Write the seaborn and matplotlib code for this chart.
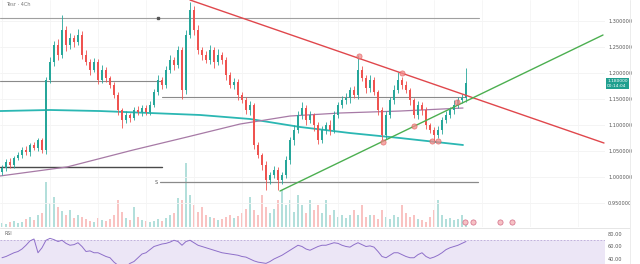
import matplotlib
matplotlib.use("Agg")
import matplotlib.pyplot as plt
from matplotlib.lines import Line2D
from matplotlib.patches import Rectangle
import seaborn as sns
import pandas as pd

sns.set_theme(style="white")
plt.rcParams['font.family'] = ['DejaVu Sans']

# ---------------- data ----------------
first_open = 1.010
closes = [1.017, 1.029, 1.023, 1.037, 1.042, 1.052, 1.048, 1.062, 1.056, 1.071,
          1.052, 1.187, 1.221, 1.254, 1.235, 1.283, 1.254, 1.267, 1.260, 1.273,
          1.235, 1.221, 1.206, 1.221, 1.187, 1.206, 1.190, 1.177, 1.158, 1.129,
          1.110, 1.119, 1.114, 1.129, 1.125, 1.133, 1.125, 1.139, 1.164, 1.187,
          1.177, 1.206, 1.225, 1.215, 1.244, 1.167, 1.273, 1.321, 1.283, 1.244,
          1.235, 1.225, 1.244, 1.221, 1.235, 1.225, 1.196, 1.177, 1.183, 1.158,
          1.148, 1.129, 1.139, 1.062, 1.042, 1.023, 0.994, 1.004, 1.014, 0.994,
          1.004, 1.033, 1.071, 1.090, 1.119, 1.133, 1.110, 1.119, 1.100, 1.071,
          1.090, 1.100, 1.090, 1.119, 1.139, 1.148, 1.152, 1.167, 1.158, 1.206,
          1.190, 1.171, 1.187, 1.164, 1.129, 1.081, 1.119, 1.148, 1.167, 1.187,
          1.177, 1.167, 1.148, 1.119, 1.139, 1.129, 1.100, 1.090, 1.081, 1.090,
          1.110, 1.119, 1.129, 1.139, 1.148, 1.152, 1.180]
upper_wick = [6, 5, 8, 4, 6, 5, 7, 4, 6, 5,
              4, 6, 10, 8, 12, 29, 8, 10, 6, 12,
              8, 10, 6, 8, 5, 10, 6, 4, 5, 6,
              4, 7, 5, 6, 8, 5, 6, 8, 6, 10,
              6, 8, 10, 6, 8, 6, 10, 16, 8, 10,
              6, 8, 10, 6, 12, 5, 6, 5, 8, 6,
              5, 6, 8, 4, 6, 5, 8, 6, 8, 5,
              6, 8, 6, 10, 8, 12, 6, 8, 5, 6,
              8, 6, 10, 8, 6, 8, 10, 6, 8, 29,
              8, 6, 10, 5, 4, 6, 8, 6, 10, 15,
              6, 8, 5, 4, 8, 6, 5, 4, 6, 8,
              6, 8, 5, 10, 6, 8, 30]
lower_wick = [6, 5, 6, 5, 4, 6, 5, 7, 4, 6,
              5, 7, 6, 8, 10, 6, 12, 8, 10, 6,
              8, 6, 10, 5, 8, 6, 8, 5, 6, 10,
              16, 6, 8, 5, 6, 8, 5, 6, 5, 6,
              8, 5, 6, 10, 6, 17, 8, 6, 10, 8,
              10, 6, 8, 12, 6, 8, 10, 6, 8, 10,
              6, 8, 10, 8, 6, 10, 19, 8, 6, 19,
              8, 6, 8, 10, 6, 8, 10, 6, 12, 8,
              6, 8, 10, 5, 6, 6, 8, 10, 6, 8,
              6, 10, 8, 6, 10, 10, 8, 6, 8, 6,
              8, 6, 10, 6, 8, 10, 8, 6, 12, 6,
              8, 6, 5, 8, 6, 5, 8]
volumes = [4, 3, 5, 6, 4, 5, 8, 10, 7, 12,
           14, 45, 24, 30, 20, 16, 12, 17, 9, 12,
           10, 8, 6, 5, 9, 7, 6, 8, 12, 27,
           15, 9, 7, 20, 10, 7, 6, 5, 6, 8,
           6, 9, 12, 14, 29, 27, 64, 32, 22, 15,
           20, 12, 10, 9, 7, 8, 10, 12, 9, 11,
           14, 18, 30, 17, 12, 32, 20, 14, 18, 27,
           37, 22, 27, 15, 32, 22, 14, 27, 17, 22,
           14, 27, 12, 17, 10, 12, 9, 12, 17, 12,
           22, 10, 12, 12, 8, 17, 10, 8, 12, 10,
           22, 14, 10, 12, 8, 7, 5, 10, 17, 27,
           12, 8, 9, 7, 8, 12, 6]
rsi = [42, 44, 47, 50, 52, 56, 62, 69, 72, 50,
       58, 70, 73, 71, 68, 70, 65, 62, 63, 66,
       60, 52, 53, 50, 50, 47, 44, 42, 35, 30,
       26, 28, 33, 36, 42, 48, 50, 55, 60, 62,
       64, 65, 67, 70, 68, 62, 68, 70, 66, 62,
       60, 58, 56, 54, 52, 50, 49, 48, 47, 46,
       44, 43, 40, 37, 35, 34, 33, 36, 40, 43,
       46, 50, 54, 58, 62, 60, 56, 54, 57, 60,
       62, 62, 64, 66, 65, 62, 60, 59, 63, 66,
       63, 60, 61, 59, 52, 44, 42, 46, 50, 50,
       47, 44, 42, 42, 47, 50, 44, 41, 43, 46,
       50, 55, 58, 60, 62, 65, 68]

# moving averages (bar index, price)
ma_fast_idx = [-0.5, 16.25, 32.75, 46.25, 59.5, 72.0, 84.5, 99.5, 115.25]
ma_fast_val = [1.0020, 1.0193, 1.0519, 1.0769, 1.1019, 1.1173, 1.1231, 1.1269, 1.1327]
ma_slow_idx = [-0.5, 12.0, 24.5, 37.0, 49.5, 62.0, 74.5, 87.0, 99.5, 115.25]
ma_slow_val = [1.1269, 1.1289, 1.1269, 1.1231, 1.1193, 1.1116, 1.0962, 1.0846, 1.0750, 1.0616]

# horizontal levels: (price, start index, end index, colour, width)
levels = [(1.3058, -0.5, 119.2, '#a0a0a0', 0.8),
          (1.1846, -0.5, 40.0, '#8a8a8a', 0.8),
          (1.1539, 40.0, 116.0, '#8a8a8a', 0.8),
          (1.0193, -0.5, 40.0, '#4a4a4a', 1.0),
          (0.9904, 39.5, 119.0, '#8a8a8a', 0.9)]

# trend lines (index, price) pairs
resist_line = ([47.0, 150.5], [1.3404, 1.0654])
support_line = ([69.5, 150.25], [0.9731, 1.2731])

# pivot markers
pivot_idx = [89.25, 100.0, 95.25, 103.0, 107.5, 109.0, 113.75]
pivot_val = [1.2327, 1.2000, 1.0673, 1.0981, 1.0692, 1.0692, 1.1442]

event_idx = [115.75, 117.75, 124.5, 127.5]

price_ticks = [1.30, 1.25, 1.20, 1.15, 1.10, 1.05, 1.00, 0.95]
rsi_ticks = [80, 60, 40]
last_price_text = "1.180000"
countdown_text = "00:14:04"
title_text = "Tesr · 4Ch"

UP = '#26a69a'
DOWN = '#ef5350'

# ---------------- figure ----------------
W, H = 640, 264
fig = plt.figure(figsize=(W / 100, H / 100), dpi=100)
fig.patch.set_facecolor('white')
ax = fig.add_axes([0, 1 - 227 / H, 605 / W, 227 / H])
vax = ax.twinx()
rax = fig.add_axes([0, 0, 605 / W, 35 / H])

n = len(closes)
idx = list(range(n))
opens = [first_open] + closes[:-1]
highs = [max(o, c) + u / 1000 for o, c, u in zip(opens, closes, upper_wick)]
lows = [min(o, c) - l / 1000 for o, c, l in zip(opens, closes, lower_wick)]
colors = [UP if c >= o else DOWN for o, c in zip(opens, closes)]

ax.set_xlim(-0.5, 150.75)
ax.set_ylim(0.9039, 1.3404)
vax.set_ylim(0, 227)
vax.set_zorder(0)
ax.set_zorder(1)
ax.patch.set_alpha(0)

# grid
for yv in price_ticks:
    ax.axhline(yv, color='#f3f3f3', lw=0.6, zorder=0)
for xv in range(0, 151, 12):
    ax.axvline(xv, color='#f5f5f5', lw=0.6, zorder=0)

# volume
vax.bar(idx, volumes, width=0.7, color=colors, alpha=0.35, linewidth=0)
vax.set_yticks([])
for s in vax.spines.values():
    s.set_visible(False)

# levels
for p, x0, x1, col, lw in levels:
    ax.plot([x0, x1], [p, p], color=col, lw=lw, zorder=2)
ax.text(39.0, 0.9904, 'S', fontsize=3.5, color='#555', va='center', ha='right')
ax.plot([39.0], [1.3058], marker='s', ms=1.8, color='#555', zorder=3)

# moving averages
sns.lineplot(x=ma_slow_idx, y=ma_slow_val, ax=ax, color='#2bb7b3', lw=1.3, zorder=3)
sns.lineplot(x=ma_fast_idx, y=ma_fast_val, ax=ax, color='#a77aa6', lw=0.9, zorder=3)

# candles
ax.vlines(idx, lows, highs, colors=colors, lw=0.6, zorder=4)
bodies = [max(abs(c - o), 0.0015) for o, c in zip(opens, closes)]
ax.bar(idx, bodies, bottom=[min(o, c) for o, c in zip(opens, closes)],
       width=0.62, color=colors, linewidth=0, zorder=5)

# trend lines
ax.plot(resist_line[0], resist_line[1], color='#e0474c', lw=1.0, zorder=6)
ax.plot(support_line[0], support_line[1], color='#4caf50', lw=1.0, zorder=6)

# pivots
sns.scatterplot(x=pivot_idx, y=pivot_val, ax=ax, s=14, color='#f28b8b',
                edgecolor='#e05555', linewidth=0.5, alpha=0.75, zorder=7)

# event icons
vax.scatter(event_idx, [5] * len(event_idx), s=14, color='#f6c1c4',
            edgecolors='#d36a86', linewidths=0.5, zorder=8)

# price axis
ax.yaxis.tick_right()
ax.set_yticks(price_ticks)
ax.set_yticklabels([f"{t:.6f}" for t in price_ticks])
ax.tick_params(axis='y', length=0, pad=2.2, labelsize=3.6, labelcolor='#555')
ax.set_xticks([])
for s in ax.spines.values():
    s.set_visible(False)
ax.set_xlabel('')
ax.set_ylabel('')

# last price tag
tag_y = closes[-1]
ax.annotate(f"{last_price_text}\n{countdown_text}", xy=(1.0, tag_y), xycoords=('axes fraction', 'data'),
            xytext=(1.5, 0), textcoords='offset points', fontsize=3.2, color='white',
            ha='left', va='center', linespacing=1.1,
            bbox=dict(boxstyle='square,pad=0.25', fc='#1f9f8f', ec='none'), annotation_clip=False)

fig.text(6 / W, 1 - 4 / H, title_text, fontsize=3.6, color='#777', ha='left', va='center')

# RSI panel
rax.set_xlim(-0.5, 150.75)
rax.set_ylim(32, 88)
rax.axhspan(30, 70, xmax=1.0, color='#ece6f6', lw=0, zorder=0)
rax.axhline(70, color='#b9a8d8', lw=0.6, ls=(0, (2, 2)), zorder=1)
sns.lineplot(x=idx, y=rsi, ax=rax, color='#8e6fc9', lw=0.7, zorder=3)
rax.yaxis.tick_right()
rax.set_yticks(rsi_ticks)
rax.set_yticklabels([f"{t:.2f}" for t in rsi_ticks])
rax.tick_params(axis='y', length=0, pad=2.2, labelsize=3.6, labelcolor='#555')
rax.set_xticks([])
rax.set_xlabel('')
rax.set_ylabel('')
for s in rax.spines.values():
    s.set_visible(False)
rax.text(0.008, 0.86, 'RSI', transform=rax.transAxes, fontsize=3.4, color='#666', va='center')

# separators
fig.add_artist(Line2D([0, 630 / W], [1 - 228 / H] * 2, color='#e6e6e6', lw=0.7))
fig.add_artist(Line2D([630 / W] * 2, [0, 1], color='#ececec', lw=0.7))

fig.savefig('out.png', dpi=100, facecolor='white')
